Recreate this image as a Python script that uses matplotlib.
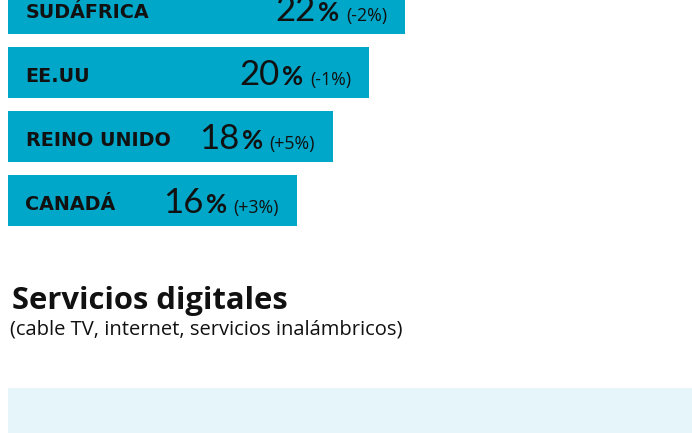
import matplotlib

matplotlib.use("Agg")

import matplotlib.pyplot as plt
from matplotlib.patches import Rectangle

# datos
paises = ["SUDÁFRICA", "EE.UU", "REINO UNIDO", "CANADÁ"]
porcentajes = [22, 20, 18, 16]
variaciones = ["(-2%)", "(-1%)", "(+5%)", "(+3%)"]

titulo = "Servicios digitales"
subtitulo = "(cable TV, internet, servicios inalámbricos)"

BAR = "#00a7c9"
PANEL = "#e6f5fa"
TEXTO = "#111111"
FUENTE = "Open Sans"
FUENTE_ETIQ = "DejaVu Sans"
FUENTE_NUM = "Lato"

W, H = 692, 433
PX_POR_PUNTO = 18.05  # píxeles por punto porcentual
PASO = 64.0           # separación vertical entre barras (px)
CENTRO0 = 8.3         # centro de la primera barra (px desde arriba)

fig = plt.figure(figsize=(W / 100, H / 100), dpi=100)
ax = fig.add_axes([8 / W, 0, (W - 8) / W, 1])
ax.set_xlim(0, (W - 8) / PX_POR_PUNTO)
ax.set_ylim((H - CENTRO0) / PASO, -CENTRO0 / PASO)
ax.axis("off")

idx = list(range(len(paises)))
ax.barh(idx, porcentajes, height=50.5 / PASO, color=BAR, left=0)

fig.canvas.draw()
renderer = fig.canvas.get_renderer()

for i, (pais, v, var) in enumerate(zip(paises, porcentajes, variaciones)):
    ax.annotate(pais, xy=(0, i), xytext=(17.5, -10), textcoords="offset pixels",
                ha="left", va="baseline", fontsize=13.8, fontweight="bold",
                family=FUENTE_ETIQ, color=TEXTO)
    t_var = ax.annotate(var, xy=(v, i), xytext=(-18, -12.7), textcoords="offset pixels",
                        ha="right", va="baseline", fontsize=12.8, fontweight="normal",
                        family=FUENTE, color=TEXTO)
    w_var = t_var.get_window_extent(renderer).width
    off = -18 - w_var - 6.5
    t_pct = ax.annotate("%", xy=(v, i), xytext=(off, -12.7), textcoords="offset pixels",
                        ha="right", va="baseline", fontsize=18.5, fontweight="bold",
                        family=FUENTE_NUM, color=TEXTO)
    w_pct = t_pct.get_window_extent(renderer).width
    off = off - w_pct - 2.3
    ax.annotate(str(v), xy=(v, i), xytext=(off, -12.7), textcoords="offset pixels",
                ha="right", va="baseline", fontsize=25, fontweight="normal",
                family=FUENTE_NUM, color=TEXTO)

fig.text(12 / W, 1 - 309 / H, titulo, ha="left", va="baseline", fontsize=22.3,
         fontweight="bold", family=FUENTE, color=TEXTO)
fig.text(10.5 / W, 1 - 335 / H, subtitulo, ha="left", va="baseline", fontsize=14.5,
         fontweight="normal", family=FUENTE, color=TEXTO)

fig.patches.append(Rectangle((7.5 / W, 0), 1 - 7.5 / W, (H - 388) / H,
                             transform=fig.transFigure, facecolor=PANEL,
                             edgecolor="none", zorder=0))

fig.savefig("out.png", dpi=100)
